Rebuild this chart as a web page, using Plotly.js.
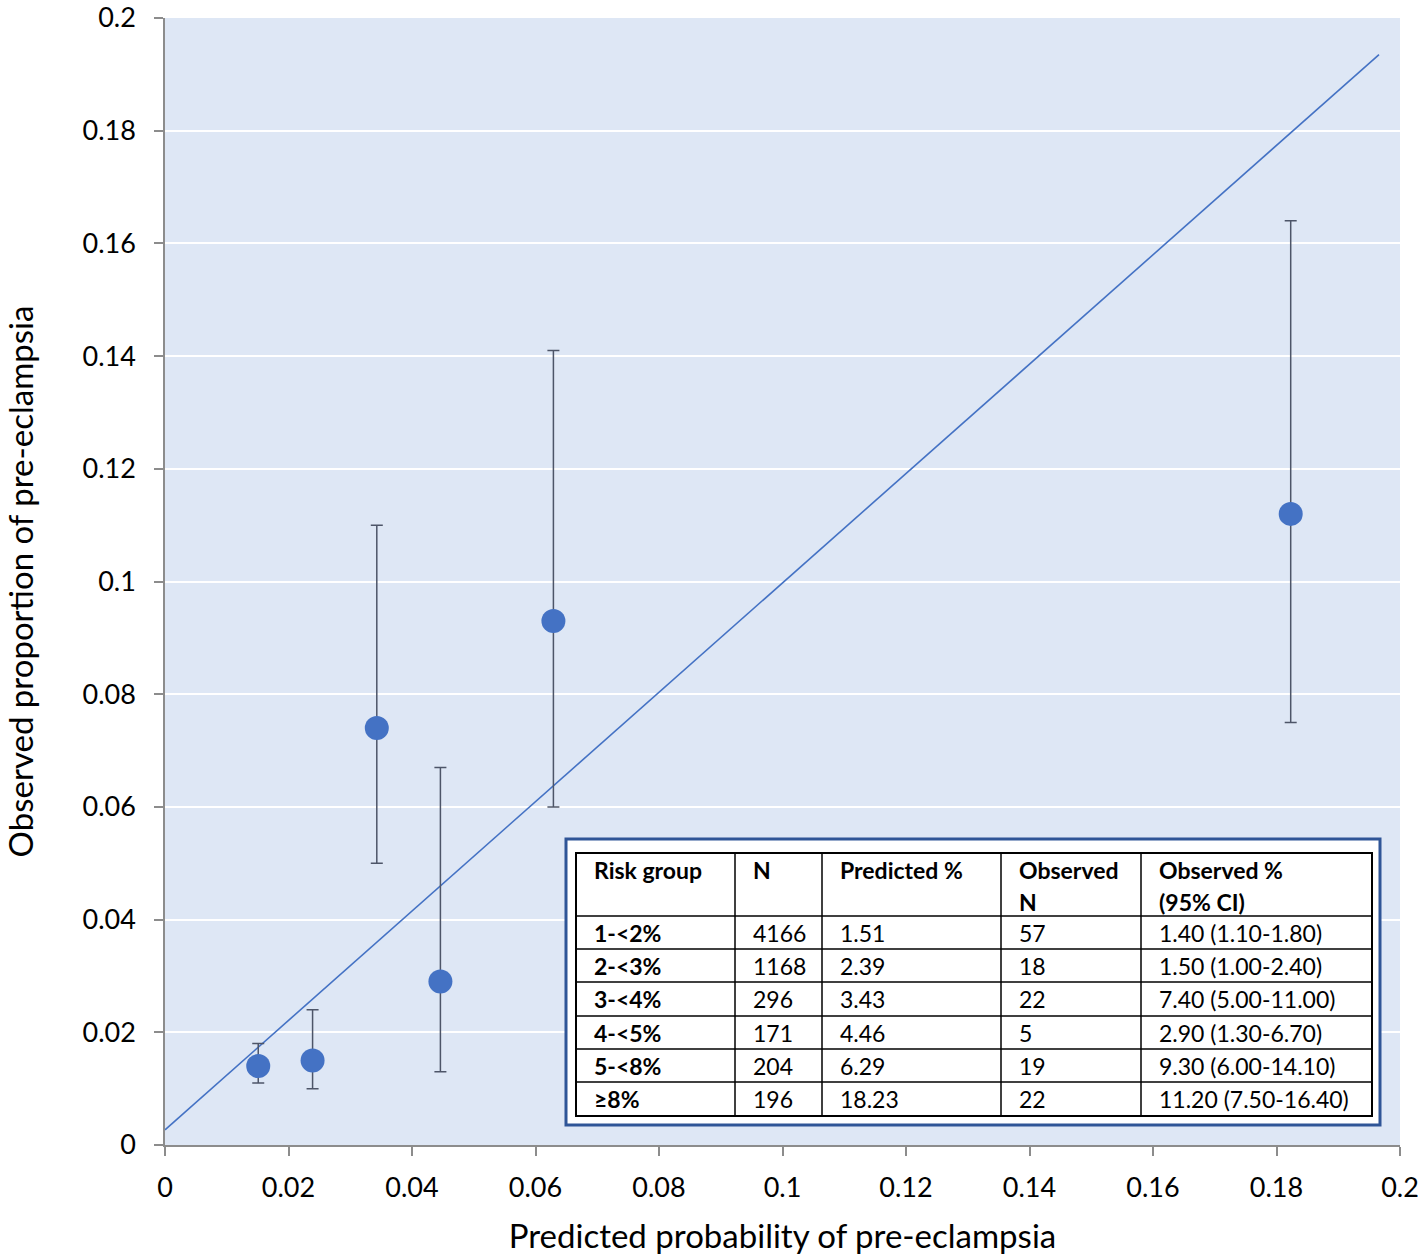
<!DOCTYPE html>
<html>
<head>
<meta charset="utf-8">
<script src="https://cdn.plot.ly/plotly-3.0.1.min.js"></script>
<style>
  html, body { margin: 0; padding: 0; background: #fff; }
  #chart { width: 1418px; height: 1255px; }
</style>
</head>
<body>
<div id="chart"></div>
<script>
// table / chart values (percent)
const riskGroups = ["1-<2%", "2-<3%", "3-<4%", "4-<5%", "5-<8%", "≥8%"];
const groupN = [4166, 1168, 296, 171, 204, 196];
const predictedPct = [1.51, 2.39, 3.43, 4.46, 6.29, 18.23];
const observedN = [57, 18, 22, 5, 19, 22];
const observedPct = [1.40, 1.50, 7.40, 2.90, 9.30, 11.20];
const ciLow = [1.10, 1.00, 5.00, 1.30, 6.00, 7.50];
const ciHigh = [1.80, 2.40, 11.00, 6.70, 14.10, 16.40];

// calibration line drawn in the figure
const lineX = [0, 0.1966];
const lineY = [0.0027, 0.1935];

// axis ticks
const tickVals = [0, 0.02, 0.04, 0.06, 0.08, 0.1, 0.12, 0.14, 0.16, 0.18, 0.2];
const tickText = ["0", "0.02", "0.04", "0.06", "0.08", "0.1", "0.12", "0.14", "0.16", "0.18", "0.2"];

const x = predictedPct.map(v => v / 100);
const y = observedPct.map(v => v / 100);
const errPlus = ciHigh.map((v, i) => (v - observedPct[i]) / 100);
const errMinus = observedPct.map((v, i) => (v - ciLow[i]) / 100);

const points = {
    x,
    y,
    mode: "markers",
    type: "scatter",
    marker: { color: "#4472c4", size: 24 },
    error_y: {
        type: "data",
        symmetric: false,
        array: errPlus,
        arrayminus: errMinus,
        color: "#4d5568",
        thickness: 1.5,
        width: 6,
    },
    hoverinfo: "x+y",
    cliponaxis: false,
};

const fitLine = {
    x: lineX,
    y: lineY,
    mode: "lines",
    type: "scatter",
    line: { color: "#4472c4", width: 1.6 },
    hoverinfo: "skip",
};

// table drawn with shapes + annotations, positions in pixels -> paper
const W = 1418, H = 1255;
const M = { l: 165, r: 18, t: 18, b: 110 };
const pw = W - M.l - M.r, ph = H - M.t - M.b;
const px = v => (v - M.l) / pw;
const py = v => 1 - (v - M.t) / ph;

const colEdges = [576, 735, 822, 1001, 1141, 1372];
const rowEdges = [853, 916, 949, 982, 1016, 1049, 1082, 1116];

const shapes = [
    {
        type: "rect", xref: "paper", yref: "paper",
        x0: px(566), x1: px(1380), y0: py(839), y1: py(1125),
        line: { color: "#2f5597", width: 3 }, fillcolor: "#ffffff", layer: "above",
    },
    {
        type: "rect", xref: "paper", yref: "paper",
        x0: px(colEdges[0]), x1: px(colEdges[5]), y0: py(rowEdges[0]), y1: py(rowEdges[7]),
        line: { color: "#000", width: 2 }, layer: "above",
    },
];
colEdges.slice(1, -1).forEach(c => shapes.push({
    type: "line", xref: "paper", yref: "paper",
    x0: px(c), x1: px(c), y0: py(rowEdges[0]), y1: py(rowEdges[7]),
    line: { color: "#000", width: 1.5 }, layer: "above",
}));
rowEdges.slice(1, -1).forEach(r => shapes.push({
    type: "line", xref: "paper", yref: "paper",
    x0: px(colEdges[0]), x1: px(colEdges[5]), y0: py(r), y1: py(r),
    line: { color: "#000", width: 1.5 }, layer: "above",
}));

const tableFont = "Lato, Open Sans, sans-serif";
const annotations = [];
const cell = (text, col, yPix, bold) => annotations.push({
    xref: "paper", yref: "paper",
    x: px(colEdges[col] + 16), y: py(yPix),
    xanchor: "left", yanchor: "middle",
    text: bold ? "<b>" + text + "</b>" : text,
    showarrow: false,
    font: { family: tableFont, size: 23, color: "#000" },
});

const header = [["Risk group"], ["N"], ["Predicted %"], ["Observed", "N"], ["Observed %", "(95% CI)"]];
header.forEach((lines, c) => lines.forEach((t, k) => cell(t, c, 870 + k * 32, true)));

riskGroups.forEach((g, i) => {
    const yc = (rowEdges[i + 1] + rowEdges[i + 2]) / 2;
    cell(g, 0, yc, true);
    cell(String(groupN[i]), 1, yc);
    cell(predictedPct[i].toFixed(2), 2, yc);
    cell(String(observedN[i]), 3, yc);
    cell(observedPct[i].toFixed(2) + " (" + ciLow[i].toFixed(2) + "-" + ciHigh[i].toFixed(2) + ")", 4, yc);
});

const axisFont = { family: "Lato, Open Sans, sans-serif", size: 27, color: "#000" };
const titleFont = { family: "Lato, Open Sans, sans-serif", size: 33, color: "#000" };

const layout = {
    width: W,
    height: H,
    margin: M,
    showlegend: false,
    paper_bgcolor: "#ffffff",
    plot_bgcolor: "#dee7f5",
    xaxis: {
        range: [0, 0.2],
        tickmode: "array",
        tickvals: tickVals,
        ticktext: tickText,
        showgrid: false,
        zeroline: false,
        showline: true,
        linecolor: "#8c8c8c",
        linewidth: 1.5,
        ticks: "outside",
        ticklen: 9,
        tickcolor: "#8c8c8c",
        tickwidth: 1.5,
        tickfont: axisFont,
        ticklabelstandoff: 9,
        ticklabeloverflow: "allow",
        title: { text: "Predicted probability of pre-eclampsia", font: titleFont, standoff: 25 },
    },
    yaxis: {
        range: [0, 0.2],
        tickmode: "array",
        tickvals: tickVals,
        ticktext: tickText,
        showgrid: true,
        gridcolor: "#ffffff",
        gridwidth: 1.5,
        zeroline: false,
        showline: true,
        linecolor: "#8c8c8c",
        linewidth: 1.5,
        ticks: "outside",
        ticklen: 9,
        tickcolor: "#8c8c8c",
        tickwidth: 1.5,
        tickfont: axisFont,
        ticklabelstandoff: 13,
        ticklabeloverflow: "allow",
        title: { text: "Observed proportion of pre-eclampsia", font: titleFont, standoff: 47 },
    },
    shapes,
    annotations,
};

Plotly.newPlot("chart", [fitLine, points], layout, { displayModeBar: false });
</script>
</body>
</html>
